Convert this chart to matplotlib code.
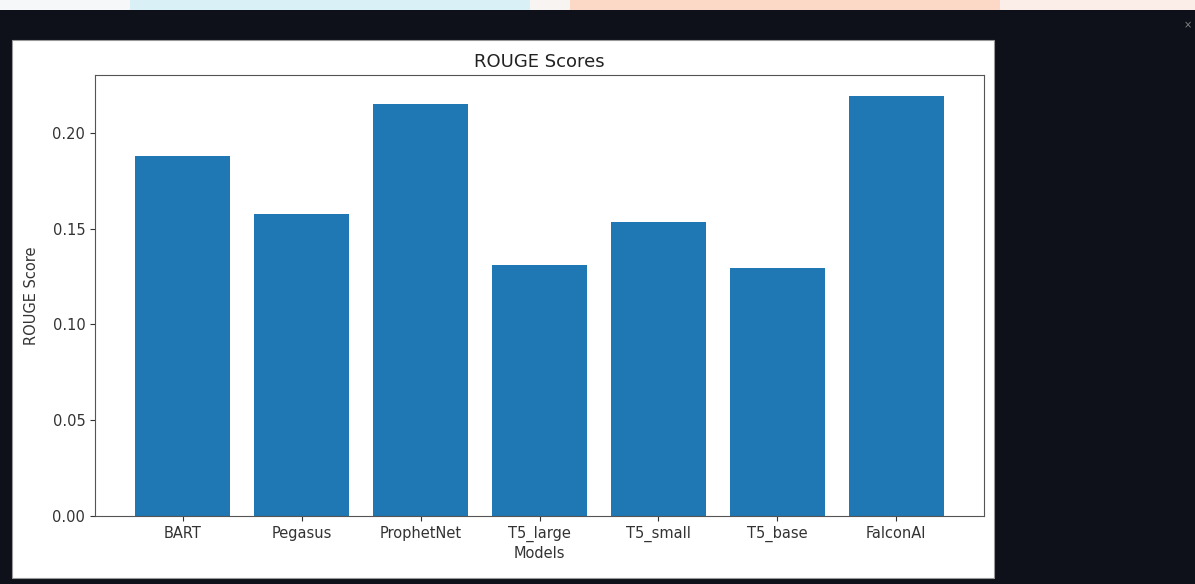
import matplotlib
matplotlib.use("Agg")
import matplotlib.pyplot as plt
from matplotlib.patches import Rectangle

models = ["BART", "Pegasus", "ProphetNet", "T5_large", "T5_small", "T5_base", "FalconAI"]
rouge_scores = [0.188, 0.1577, 0.2151, 0.1311, 0.1535, 0.1295, 0.2193]

W, H = 1195, 584
fig = plt.figure(figsize=(W / 100, H / 100), dpi=100, facecolor="#0f111a")

# blurred colourful strip at the very top of the screenshot
strip = [(0, 130, "#f6f7f8"), (130, 530, "#d9f1f6"), (530, 570, "#f7f4f2"),
         (570, 1000, "#fbd9c6"), (1000, 1195, "#fbeee8")]
for x0, x1, c in strip:
    fig.patches.append(Rectangle((x0 / W, (H - 10) / H), (x1 - x0) / W, 10 / H,
                                 transform=fig.transFigure, facecolor=c,
                                 edgecolor="none", zorder=-2))

# white figure panel
fig.patches.append(Rectangle((12 / W, 6 / H), 982 / W, 538 / H,
                             transform=fig.transFigure, facecolor="white",
                             edgecolor="#999999", linewidth=0.8, zorder=-2))

ax = fig.add_axes([95 / W, (H - 516) / H, 889 / W, 441 / H])
ax.set_zorder(1)
ax.bar(models, rouge_scores, color="#1f77b4", width=0.8)
ax.set_title("ROUGE Scores", fontsize=13, color="#222222", pad=6)
ax.set_xlabel("Models", fontsize=10.5, color="#333333", labelpad=3)
ax.set_ylabel("ROUGE Score", fontsize=10.5, color="#333333", labelpad=10)
ax.tick_params(labelsize=10.5, colors="#333333")
for s in ax.spines.values():
    s.set_color("#555555")

fig.text(1188 / W, (H - 25) / H, "×", color="#888888", fontsize=7, ha="center", va="center")

fig.savefig("out.png", dpi=100, facecolor=fig.get_facecolor())
